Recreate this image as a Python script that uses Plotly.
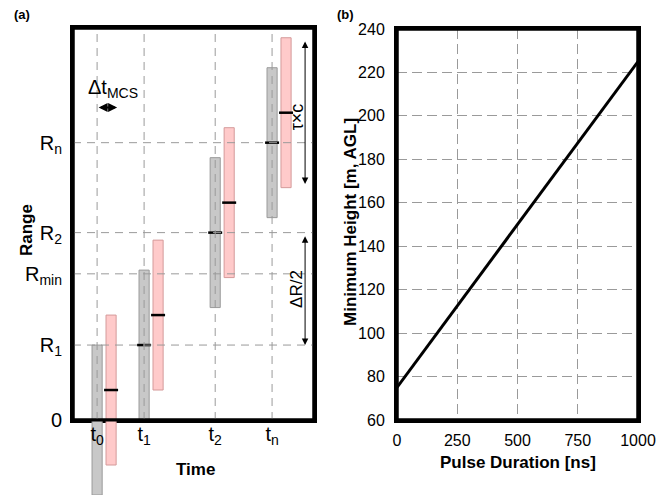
import plotly.graph_objects as go

# ---------------- data: panel (a) ----------------
time_labels = ["t<sub>0</sub>", "t<sub>1</sub>", "t<sub>2</sub>", "t<sub>n</sub>"]
time_pos = [1.0, 2.95, 5.9, 8.26]
pink_shift = 0.58
bar_width = 0.42
range_labels = ["0", "R<sub>1</sub>", "R<sub>min</sub>", "R<sub>2</sub>", "R<sub>n</sub>"]
range_vals = [0.0, 1.0, 1.95, 2.5, 3.7]
grey_center = [0.0, 1.0, 2.5, 3.7]
pink_center = [0.4, 1.4, 2.9, 4.1]
half_extent = 1.0
x_lo, x_hi = 0.0, 10.0
y_lo, y_hi = 0.0, 5.23
y_bottom = -1.0   # bars may reach below the zero line

# ---------------- data: panel (b) ----------------
pulse_ns = [0, 1000]
min_height = [75, 225]
x2_lo, x2_hi = 0, 1000
y2_lo, y2_hi = 60, 240
x2_ticks = [0, 250, 500, 750, 1000]
y2_ticks = [60, 80, 100, 120, 140, 160, 180, 200, 220, 240]

FONT = "Liberation Sans, Arial, Helvetica, sans-serif"
W, H = 672, 495
BOX_A = (73, 314, 28, 420)
BOX_B = (397, 638, 29, 420)


def px(x):
    return x / W


def py(y):
    return 1 - y / H


fig = go.Figure()

# frame traces (coincide with the axis lines drawn below)
fig.add_trace(go.Scatter(
    x=[x_lo, x_hi, x_hi, x_lo, x_lo], y=[y_lo, y_lo, y_hi, y_hi, y_lo], mode="lines",
    line=dict(color="black", width=3), xaxis="x", yaxis="y", showlegend=False,
    hoverinfo="skip"))
fig.add_trace(go.Scatter(
    x=[x2_lo, x2_hi, x2_hi, x2_lo, x2_lo], y=[y2_lo, y2_lo, y2_hi, y2_hi, y2_lo],
    mode="lines", line=dict(color="black", width=3), xaxis="x2", yaxis="y2",
    showlegend=False, hoverinfo="skip"))

pink_x = [t + pink_shift for t in time_pos]

# bars drawn in the main panel and again in a hidden strip below the zero line
for xa, ya in (("x", "y"), ("x3", "y3")):
    fig.add_trace(go.Bar(
        x=time_pos, y=[2 * half_extent] * len(grey_center),
        base=[c - half_extent for c in grey_center], width=bar_width,
        marker=dict(color="#c8c8c8", line=dict(color="#9a9a9a", width=1)),
        xaxis=xa, yaxis=ya, showlegend=False))
    fig.add_trace(go.Bar(
        x=pink_x, y=[2 * half_extent] * len(pink_center),
        base=[c - half_extent for c in pink_center], width=bar_width,
        marker=dict(color="#ffcaca", line=dict(color="#d49a9a", width=1)),
        xaxis=xa, yaxis=ya, showlegend=False))
# centre marks
fig.add_trace(go.Scatter(
    x=time_pos[1:] + pink_x, y=grey_center[1:] + pink_center, mode="markers",
    marker=dict(symbol="line-ew", size=10, line=dict(color="black", width=2.5)),
    cliponaxis=False, xaxis="x", yaxis="y", showlegend=False))

# panel (b) line
fig.add_trace(go.Scatter(
    x=pulse_ns, y=min_height, mode="lines",
    line=dict(color="black", width=3), xaxis="x2", yaxis="y2", showlegend=False))

# dashed grid of panel (a), drawn above bars
shapes = []
for t in time_pos:
    shapes.append(dict(type="line", xref="x", yref="y", x0=t, x1=t, y0=y_lo, y1=y_hi,
                       line=dict(color="#9a9a9a", width=1, dash="8px,6px"), layer="above"))
for r in range_vals[1:]:
    shapes.append(dict(type="line", xref="x", yref="y", x0=x_lo, x1=x_hi, y0=r, y1=r,
                       line=dict(color="#9a9a9a", width=1, dash="8px,6px"), layer="above"))
# frame edges again as paper shapes
for (l, r, t, b) in (BOX_A, BOX_B):
    for (xa_, ya_, xb_, yb_) in ((l, t, r, t), (l, b, r, b), (l, t, l, b), (r, t, r, b)):
        shapes.append(dict(type="line", xref="paper", yref="paper",
                           x0=px(xa_), y0=py(ya_), x1=px(xb_), y1=py(yb_),
                           line=dict(color="black", width=3, dash="solid"), layer="above"))

ann = []
arrow_x = 9.63
# tau x c arrow
ann.append(dict(x=arrow_x, y=pink_center[3] - half_extent + 0.05, ax=arrow_x,
                ay=pink_center[3] + half_extent - 0.03, xref="x", yref="y", axref="x", ayref="y",
                text="", showarrow=True, arrowside="end+start", arrowhead=2, arrowsize=1.3,
                arrowwidth=1, arrowcolor="black", startarrowhead=2, startarrowsize=1.3))
# Delta R / 2 arrow
ann.append(dict(x=arrow_x, y=range_vals[1], ax=arrow_x, ay=range_vals[3] - 0.03,
                xref="x", yref="y", axref="x", ayref="y",
                text="", showarrow=True, arrowside="end+start", arrowhead=2, arrowsize=1.3,
                arrowwidth=1, arrowcolor="black", startarrowhead=2, startarrowsize=1.3))
# Delta t MCS arrow
ann.append(dict(x=time_pos[0] + 0.83, y=4.17, ax=time_pos[0], ay=4.17,
                xref="x", yref="y", axref="x", ayref="y",
                text="", showarrow=True, arrowside="end+start", arrowhead=2, arrowsize=0.9,
                arrowwidth=2, arrowcolor="black", startarrowhead=2, startarrowsize=0.9))
ann.append(dict(x=1.66, y=4.42, xref="x", yref="y", text="Δt<sub>MCS</sub>", showarrow=False,
                font=dict(family=FONT, size=20, color="black")))
ann.append(dict(x=9.3, y=4.04, xref="x", yref="y", text="τ×c", showarrow=False, textangle=-90,
                font=dict(family=FONT, size=18, color="black")))
ann.append(dict(x=9.3, y=1.75, xref="x", yref="y", text="ΔR/2", showarrow=False, textangle=-90,
                font=dict(family=FONT, size=17, color="black")))

# axis titles and panel labels
title_font = dict(family=FONT, size=17, color="black")
common = dict(xref="paper", yref="paper", showarrow=False, xanchor="center", yanchor="middle")
ann.append(dict(x=px(26), y=py(230), text="<b>Range</b>", textangle=-90, font=title_font, **common))
ann.append(dict(x=px(195), y=py(469), text="<b>Time</b>", font=title_font, **common))
ann.append(dict(x=px(350), y=py(222), text="<b>Minimum Height [m, AGL]</b>", textangle=-90,
                font=title_font, **common))
ann.append(dict(x=px(518), y=py(462), text="<b>Pulse Duration [ns]</b>", font=title_font, **common))
ann.append(dict(x=px(22), y=py(15), text="<b>(a)</b>",
                font=dict(family=FONT, size=13, color="black"), **common))
ann.append(dict(x=px(346), y=py(15), text="<b>(b)</b>",
                font=dict(family=FONT, size=13, color="black"), **common))

fig.update_layout(
    width=W, height=H, margin=dict(l=0, r=0, t=0, b=0),
    template="none", paper_bgcolor="white", plot_bgcolor="rgba(0,0,0,0)",
    barmode="overlay", shapes=shapes, annotations=ann,
    xaxis=dict(domain=[px(BOX_A[0]), px(BOX_A[1])], range=[x_lo, x_hi],
               showticklabels=False, showgrid=False, anchor="y", zeroline=False,
               automargin=False, ticks="", showline=True, linecolor="black", linewidth=3,
               mirror=True),
    yaxis=dict(domain=[py(BOX_A[3]), py(BOX_A[2])], range=[y_lo, y_hi],
               tickmode="array", tickvals=range_vals, ticktext=range_labels, showgrid=False,
               tickfont=dict(family=FONT, size=20, color="black"), ticklabelstandoff=4,
               anchor="x", zeroline=False, automargin=False, ticks="", showline=True,
               linecolor="black", linewidth=3, mirror=True),
    xaxis3=dict(domain=[px(BOX_A[0]), px(BOX_A[1])], range=[x_lo, x_hi],
                tickmode="array", tickvals=time_pos, ticktext=time_labels, showgrid=False,
                tickfont=dict(family=FONT, size=20, color="black"), ticklabelstandoff=0,
                anchor="free", position=py(BOX_A[3]), zeroline=False, automargin=False,
                ticks="", showline=False),
    yaxis3=dict(domain=[0, py(BOX_A[3])], range=[y_bottom, y_lo], visible=False,
                anchor="x3"),
    xaxis2=dict(domain=[px(BOX_B[0]), px(BOX_B[1])], range=[x2_lo, x2_hi],
                tickmode="array", tickvals=x2_ticks, showgrid=True, gridcolor="#9a9a9a",
                gridwidth=1.2, griddash="10px,5px",
                tickfont=dict(family=FONT, size=16, color="black"), ticklabelstandoff=4,
                anchor="y2", zeroline=False, automargin=False, ticks="", showline=True,
                linecolor="black", linewidth=3, mirror=True),
    yaxis2=dict(domain=[py(BOX_B[3]), py(BOX_B[2])], range=[y2_lo, y2_hi],
                tickmode="array", tickvals=y2_ticks, showgrid=True, gridcolor="#9a9a9a",
                gridwidth=1.2, griddash="10px,5px",
                tickfont=dict(family=FONT, size=16, color="black"), ticklabelstandoff=6,
                anchor="x2", zeroline=False, automargin=False, ticks="", showline=True,
                linecolor="black", linewidth=3, mirror=True),
)

fig.write_html("out.html")
